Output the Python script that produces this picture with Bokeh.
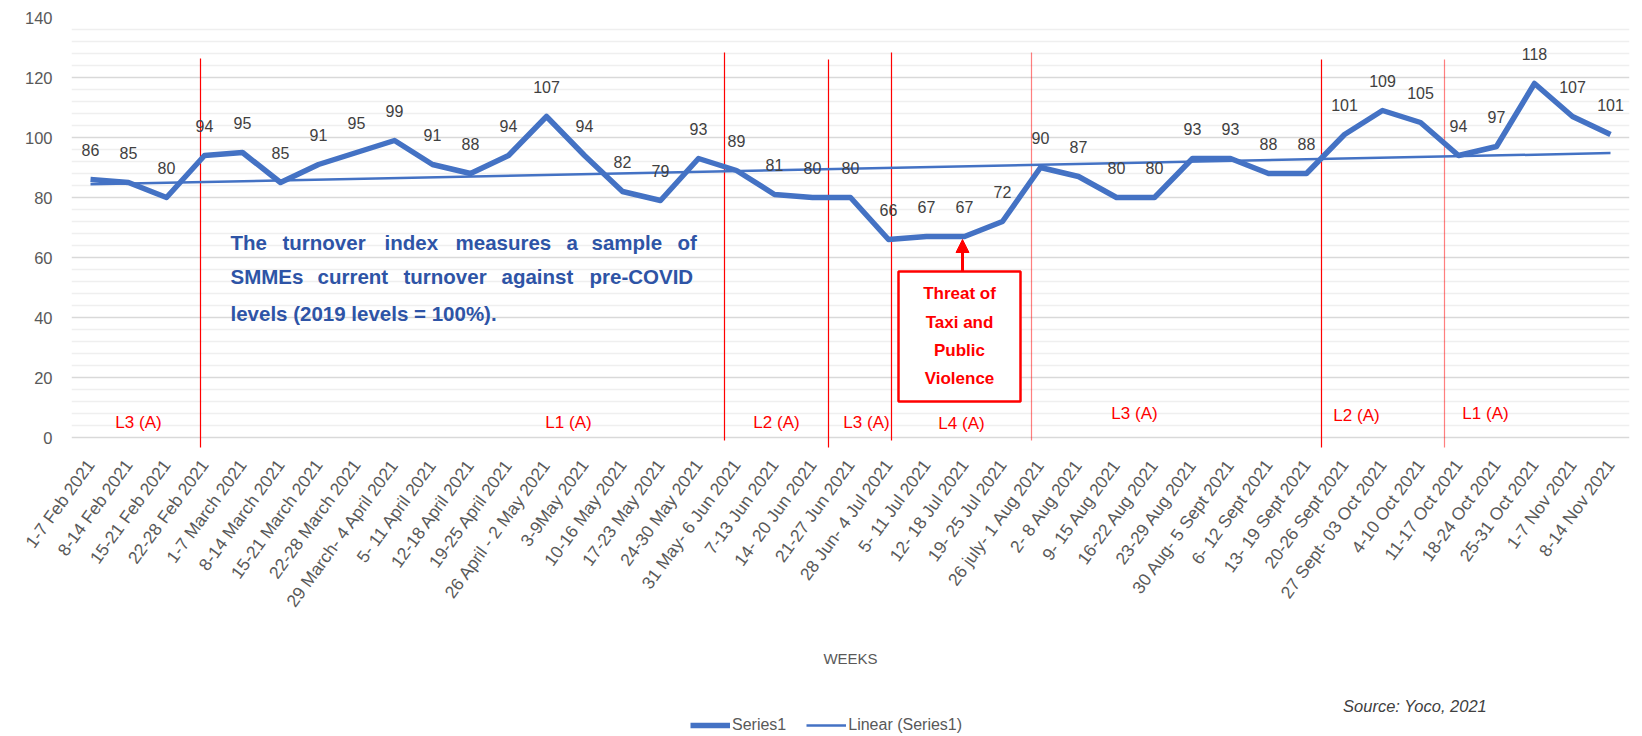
import math
from bokeh.plotting import figure
from bokeh.layouts import column
from bokeh.models import (Range1d, FixedTicker, Legend, LegendItem, Label,
                          Arrow, NormalHead)
from bokeh.core.properties import value
from bokeh.embed import file_html
from bokeh.resources import INLINE

# ---------------- data ----------------
weeks = ["1-7 Feb 2021", "8-14 Feb 2021", "15-21 Feb 2021", "22-28 Feb 2021",
         "1-7 March 2021", "8-14 March 2021", "15-21 March 2021", "22-28 March 2021",
         "29 March- 4 April 2021", "5- 11 April 2021", "12-18 April 2021",
         "19-25 April 2021", "26 April - 2 May 2021", "3-9May 2021", "10-16 May 2021",
         "17-23 May 2021", "24-30 May 2021", "31 May- 6 Jun 2021", "7-13 Jun 2021",
         "14- 20 Jun 2021", "21-27 Jun 2021", "28 Jun- 4 Jul 2021", "5- 11 Jul 2021",
         "12- 18 Jul 2021", "19- 25 Jul 2021", "26 july- 1 Aug 2021", "2- 8 Aug 2021",
         "9- 15 Aug 2021", "16-22 Aug 2021", "23-29 Aug 2021", "30 Aug- 5 Sept 2021",
         "6- 12 Sept 2021", "13- 19 Sept 2021", "20-26 Sept 2021", "27 Sept- 03 Oct 2021",
         "4-10 Oct 2021", "11-17 Oct 2021", "18-24 Oct 2021", "25-31 Oct 2021",
         "1-7 Nov 2021", "8-14 Nov 2021"]
turnover = [86, 85, 80, 94, 95, 85, 91, 95, 99, 91, 88, 94, 107, 94, 82, 79, 93, 89,
            81, 80, 80, 66, 67, 67, 72, 90, 87, 80, 80, 93, 93, 88, 88, 101, 109, 105,
            94, 97, 118, 107, 101]
trend_values = [84.4, 94.8]          # Linear (Series1) read at first and last week
level_names = ["L3 (A)", "L1 (A)", "L2 (A)", "L3 (A)", "L4 (A)", "L3 (A)", "L2 (A)", "L1 (A)"]
y_ticks = [0, 20, 40, 60, 80, 100, 120, 140]
note_lines = [["The", "turnover", "index", "measures", "a", "sample", "of"],
              ["SMMEs", "current", "turnover", "against", "pre-COVID"],
              ["levels (2019 levels = 100%)."]]
threat_lines = ["Threat of", "Taxi and", "Public", "Violence"]
series_names = ["Series1", "Linear (Series1)"]

# ---------------- layout helpers (reference pixels -> data coords) ----------------
def px2x(px):
    return (px - 90) / 38.0

def py2y(py):
    return (437 - py) / 3.0

xs = list(range(len(weeks)))
FONT = "Liberation Sans"
GREY = "#595959"
DARK = "#404040"
BLUE = "#4472C4"
RED = "#FF0000"

H1 = 693
p = figure(width=1642, height=H1, x_range=Range1d(-0.5, 40.5), y_range=Range1d(-4, 140),
           output_backend="svg", toolbar_location=None,
           min_border_left=71, min_border_right=13, min_border_top=17,
           min_border_bottom=H1 - 449)
p.outline_line_color = None
p.background_fill_color = "white"
p.border_fill_color = "white"

# axes / grid
minor = [v for v in range(4, 140, 4) if v % 20 != 0]
p.yaxis.ticker = FixedTicker(ticks=y_ticks, minor_ticks=minor)
p.yaxis.axis_line_color = None
p.yaxis.major_tick_line_color = None
p.yaxis.minor_tick_line_color = None
p.yaxis.major_label_standoff = 13
p.yaxis.major_label_text_font = FONT
p.yaxis.major_label_text_font_size = "16.5px"
p.yaxis.major_label_text_color = GREY

p.ygrid.grid_line_color = "#d9d9d9"
p.ygrid.grid_line_width = 1.6
p.ygrid.minor_grid_line_color = "#efefef"
p.ygrid.minor_grid_line_width = 1.6
p.xgrid.grid_line_color = None

p.xaxis.ticker = FixedTicker(ticks=xs)
p.xaxis.major_label_overrides = {i: w for i, w in enumerate(weeks)}
p.xaxis.major_label_orientation = math.radians(54)
p.xaxis.axis_line_color = None
p.xaxis.major_tick_line_color = None
p.xaxis.minor_tick_line_color = None
p.xaxis.major_label_standoff = 6
p.xaxis.major_label_text_font = FONT
p.xaxis.major_label_text_font_size = "17.5px"
p.xaxis.major_label_text_color = GREY
p.xaxis.axis_label = "WEEKS"
p.xaxis.axis_label_standoff = 31
p.xaxis.axis_label_text_font = FONT
p.xaxis.axis_label_text_font_size = "15px"
p.xaxis.axis_label_text_font_style = "normal"
p.xaxis.axis_label_text_color = GREY

# vertical alert-level separators
sep_x = [px2x(200), px2x(724), px2x(828), px2x(891), px2x(1031), px2x(1321), px2x(1444)]
sep_top = [126.3, 128.3, 126, 128.3, 128.3, 126, 126]
sep_bot = [-3.3, -1, -3.3, -1, -1, -3.3, -3.3]
sep_alpha = [1, 1, 1, 1, 0.5, 1, 0.5]
p.segment(x0=sep_x, y0=sep_bot, x1=sep_x, y1=sep_top, line_color=RED,
          line_width=1.2, line_alpha=sep_alpha)

# series + trend
p.line(xs, turnover, line_color=BLUE, line_width=5.5, line_join="round")
p.line([xs[0], xs[-1]], trend_values, line_color=BLUE, line_width=2.5)

# data labels
p.text(xs, turnover, text=[str(v) for v in turnover], text_align="center",
       text_baseline="middle", y_offset=-30, text_font=value(FONT),
       text_font_size="16px", text_color=DARK)

# alert level labels
lvl_x = [px2x(138), px2x(568), px2x(776), px2x(866), px2x(961), px2x(1134), px2x(1356), px2x(1485)]
lvl_y = [py2y(422), py2y(422), py2y(422), py2y(422), py2y(423), py2y(413), py2y(415), py2y(413)]
p.text(lvl_x, lvl_y, text=level_names, text_align="center", text_baseline="middle",
       text_font=value(FONT), text_font_size="17px", text_color=RED)

# explanatory note (justified words)
word_px = [[230, 282, 384, 455, 566, 591, 677],
           [230, 317, 403, 501, 589],
           [230]]
line_py = [242, 276, 313]
nx, ny, nt = [], [], []
for words, pxs, lpy in zip(note_lines, word_px, line_py):
    for w, wx in zip(words, pxs):
        nx.append(px2x(wx)); ny.append(py2y(lpy)); nt.append(w)
p.text(nx, ny, text=nt, text_align="left", text_baseline="middle",
       text_font=value(FONT), text_font_style="bold", text_font_size="20.5px",
       text_color="#2E54A6")

# threat box + arrow
p.quad(left=[px2x(898)], right=[px2x(1020)], top=[py2y(271)], bottom=[py2y(401)],
       fill_color="white", line_color=RED, line_width=2.5)
p.text([px2x(959)] * 4, [py2y(293), py2y(322), py2y(350), py2y(378)], text=threat_lines,
       text_align="center", text_baseline="middle", text_font=value(FONT),
       text_font_style="bold", text_font_size="17px", text_color=RED)
p.add_layout(Arrow(end=NormalHead(size=13, fill_color=RED, line_color=RED),
                   x_start=px2x(962), y_start=py2y(271), x_end=px2x(962), y_end=py2y(239),
                   line_color=RED, line_width=3))

# ---------------- footer strip: source note + legend ----------------
H2 = 42
p2 = figure(width=1642, height=H2, x_range=Range1d(0, 1642), y_range=Range1d(0, H2),
            x_axis_type=None, y_axis_type=None, output_backend="svg", toolbar_location=None,
            min_border=0)
p2.outline_line_color = None
p2.xgrid.grid_line_color = None
p2.ygrid.grid_line_color = None
# legend swatches only (kept outside the visible strip)
r_series = p2.line(x=[-60, -50], y=[-20, -20], line_color=BLUE, line_width=5.5)
r_trend = p2.line(x=[-60, -50], y=[-20, -20], line_color=BLUE, line_width=2.5)

p2.add_layout(Label(x=1416, y=H2 - (705 - H1), text="Source: Yoco, 2021",
                    text_align="center", text_baseline="middle", text_font=FONT,
                    text_font_size="16.5px", text_font_style="italic", text_color=DARK))

legend = Legend(items=[LegendItem(label=series_names[0], renderers=[r_series]),
                       LegendItem(label=series_names[1], renderers=[r_trend])],
                orientation="horizontal", location=(619, 1), padding=0, margin=0,
                spacing=20, glyph_width=40, glyph_height=16, label_height=16,
                label_standoff=2, border_line_color=None, background_fill_alpha=0,
                label_text_font=FONT, label_text_font_size="16px",
                label_text_color=GREY)
p2.add_layout(legend, "center")

layout = column(p, p2, spacing=0)
open("out.html", "w").write(file_html(layout, INLINE))
